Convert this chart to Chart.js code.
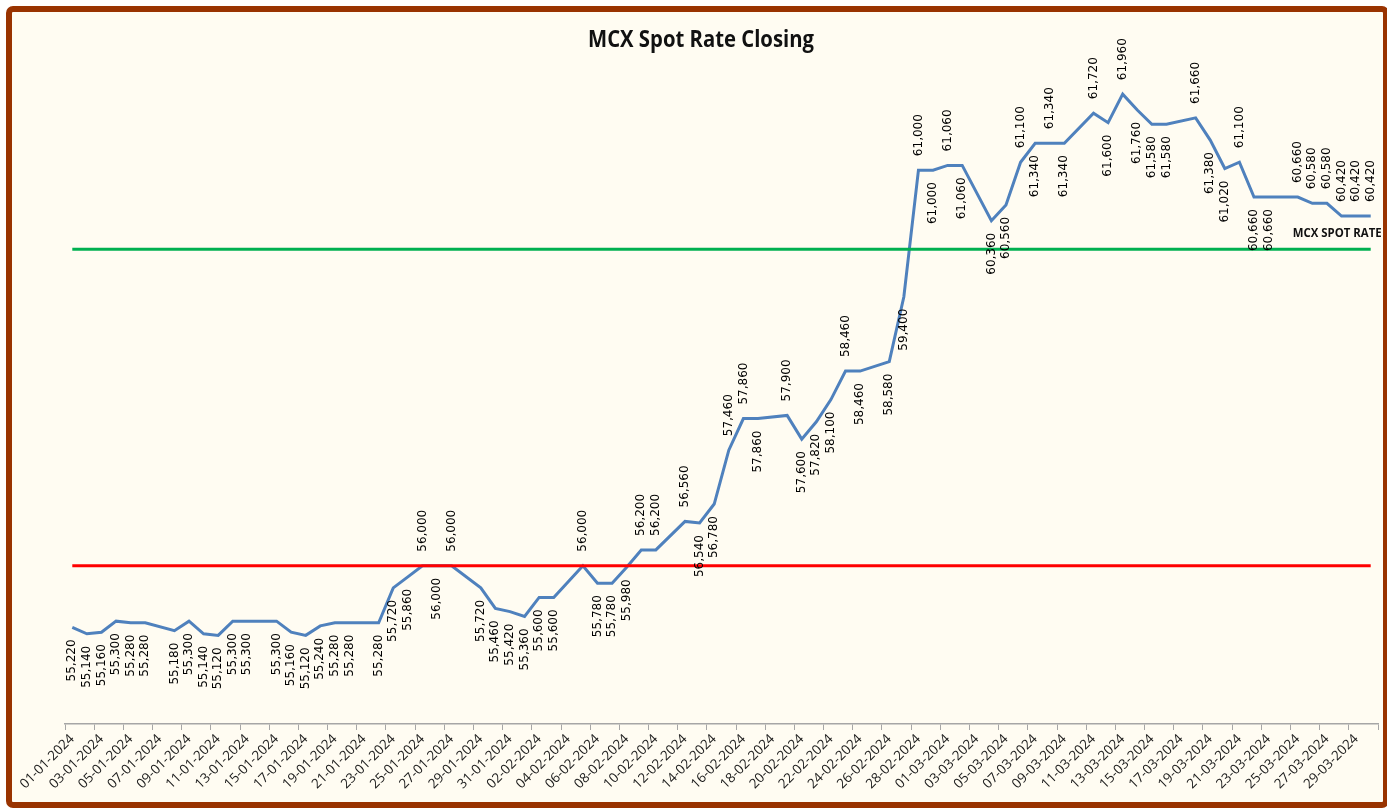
<!DOCTYPE html>
<html>
<head>
<meta charset="utf-8">
<script src="https://cdn.jsdelivr.net/npm/chart.js@4.4.1/dist/chart.umd.min.js"></script>
<style>
html,body{margin:0;padding:0;background:#ffffff;}
#wrap{position:relative;width:1387px;height:808px;overflow:hidden;background:#ffffff;}
#bg{position:absolute;left:6px;top:6px;width:1383px;height:802px;box-sizing:border-box;border:6px solid #993300;border-radius:7px;background:#fffcf2;}
canvas{position:absolute;left:0;top:0;}
</style>
</head>
<body>
<div id="wrap"><div id="bg"></div><canvas id="c" width="1387" height="808"></canvas></div>
<script>
// ---------- DATA ----------
const chartTitle = 'MCX Spot Rate Closing';
const seriesName = 'MCX SPOT RATE';

const dates = [
 '01-01-2024','02-01-2024','03-01-2024','04-01-2024','05-01-2024','06-01-2024','07-01-2024',
 '08-01-2024','09-01-2024','10-01-2024','11-01-2024','12-01-2024','13-01-2024','14-01-2024',
 '15-01-2024','16-01-2024','17-01-2024','18-01-2024','19-01-2024','20-01-2024','21-01-2024',
 '22-01-2024','23-01-2024','24-01-2024','25-01-2024','26-01-2024','27-01-2024','28-01-2024',
 '29-01-2024','30-01-2024','31-01-2024','01-02-2024','02-02-2024','03-02-2024','04-02-2024',
 '05-02-2024','06-02-2024','07-02-2024','08-02-2024','09-02-2024','10-02-2024','11-02-2024',
 '12-02-2024','13-02-2024','14-02-2024','15-02-2024','16-02-2024','17-02-2024','18-02-2024',
 '19-02-2024','20-02-2024','21-02-2024','22-02-2024','23-02-2024','24-02-2024','25-02-2024',
 '26-02-2024','27-02-2024','28-02-2024','29-02-2024','01-03-2024','02-03-2024','03-03-2024',
 '04-03-2024','05-03-2024','06-03-2024','07-03-2024','08-03-2024','09-03-2024','10-03-2024',
 '11-03-2024','12-03-2024','13-03-2024','14-03-2024','15-03-2024','16-03-2024','17-03-2024',
 '18-03-2024','19-03-2024','20-03-2024','21-03-2024','22-03-2024','23-03-2024','24-03-2024',
 '25-03-2024','26-03-2024','27-03-2024','28-03-2024','29-03-2024','30-03-2024'
];

const spotRate = [
 55220,55140,55160,55300,55280,55280,null,
 55180,55300,55140,55120,55300,55300,null,
 55300,55160,55120,55240,55280,55280,null,
 55280,55720,55860,56000,56000,56000,null,
 55720,55460,55420,55360,55600,55600,null,
 56000,55780,55780,55980,56200,56200,null,
 56560,56540,56780,57460,57860,57860,null,
 57900,57600,57820,58100,58460,58460,null,
 58580,59400,61000,61000,61060,61060,null,
 60360,60560,61100,61340,61340,61340,null,
 61720,61600,61960,61760,61580,61580,null,
 61660,61380,61020,61100,60660,60660,null,
 60660,60580,60580,60420,60420,60420
];

const upperLevel = 60000;   // green reference line
const lowerLevel = 56000;   // red reference line

const yMin = 54000;
const yMax = 62000;

// label side for each point: 'A' above, 'B' below
const labelSide = [
 'B','B','B','B','B','B','-',
 'B','B','B','B','B','B','-',
 'B','B','B','B','B','B','-',
 'B','B','B','A','B','A','-',
 'B','B','B','B','B','B','-',
 'A','B','B','B','A','A','-',
 'A','B','B','A','A','B','-',
 'A','B','B','B','A','B','-',
 'B','B','A','B','A','B','-',
 'B','B','A','B','A','B','-',
 'A','B','A','B','B','B','-',
 'A','B','B','A','B','B','-',
 'A','A','A','A','A','A'
];

// ---------- CHART ----------
function fmt(v){ return v.toLocaleString('en-US'); }

const overlayPlugin = {
  id: 'overlayText',
  afterDatasetsDraw(chart){
    const ctx = chart.ctx;
    const meta = chart.getDatasetMeta(0);
    ctx.save();
    ctx.font = '12px "DejaVu Sans"';
    ctx.fillStyle = '#000000';
    ctx.textBaseline = 'middle';
    meta.data.forEach((pt, i) => {
      const v = spotRate[i];
      if (v === null || v === undefined) return;
      const above = labelSide[i] === 'A';
      ctx.save();
      ctx.translate(pt.x, above ? pt.y - 14 : pt.y + 12);
      ctx.rotate(-Math.PI / 2);
      ctx.textAlign = above ? 'left' : 'right';
      ctx.fillText(fmt(v), 0, 0);
      ctx.restore();
    });
    // series name label near last point
    const last = meta.data[meta.data.length - 1];
    ctx.font = 'bold 12px "Open Sans"';
    ctx.fillStyle = '#111111';
    ctx.textAlign = 'left';
    ctx.textBaseline = 'alphabetic';
    const w = ctx.measureText(seriesName).width;
    ctx.save();
    ctx.translate(last.x - 78, last.y + 21);
    ctx.scale(89 / w, 1);
    ctx.fillText(seriesName, 0, 0);
    ctx.restore();

    // title
    ctx.font = 'bold 23px "Open Sans"';
    ctx.fillStyle = '#111111';
    ctx.textAlign = 'center';
    const tw = ctx.measureText(chartTitle).width;
    ctx.save();
    ctx.translate(701, 47);
    ctx.scale(226 / tw, 1);
    ctx.fillText(chartTitle, 0, 0);
    ctx.restore();
    ctx.restore();
  }
};

function build(){
  new Chart(document.getElementById('c'), {
    type: 'line',
    data: {
      labels: dates,
      datasets: [
        {
          label: seriesName,
          data: spotRate,
          borderColor: '#4F81BD',
          borderWidth: 3,
          pointRadius: 0,
          tension: 0,
          spanGaps: true,
          order: 2
        },
        {
          label: 'Upper',
          data: dates.map(() => upperLevel),
          borderColor: '#00B050',
          borderWidth: 3,
          pointRadius: 0,
          order: 0
        },
        {
          label: 'Lower',
          data: dates.map(() => lowerLevel),
          borderColor: '#FF0000',
          borderWidth: 3,
          pointRadius: 0,
          order: 1
        }
      ]
    },
    options: {
      responsive: false,
      animation: false,
      devicePixelRatio: 1,
      layout: { padding: { left: 65, right: 9, top: 91, bottom: 0 } },
      plugins: {
        legend: { display: false },
        title: { display: false },
        tooltip: { enabled: false }
      },
      scales: {
        x: {
          type: 'category',
          offset: true,
          grid: {
            offset: true,
            drawOnChartArea: false,
            tickLength: 6,
            tickWidth: 1,
            tickColor: (c) => (c.index === undefined || c.index % 2 === 0) ? '#a6a6a6' : 'rgba(0,0,0,0)'
          },
          border: { color: '#a6a6a6', width: 1.5 },
          ticks: {
            autoSkip: false,
            minRotation: 45,
            maxRotation: 45,
            padding: 1,
            color: '#1a1a1a',
            font: { family: 'Open Sans', size: 13.5 },
            callback: (v, i) => (i % 2 === 0 ? dates[i] : '')
          },
          afterFit: (s) => { s.height = 84; }
        },
        y: {
          display: false,
          min: yMin,
          max: yMax
        }
      }
    },
    plugins: [overlayPlugin]
  });
}

Promise.all([
  document.fonts.load('12px "DejaVu Sans"'),
  document.fonts.load('bold 23px "Open Sans"'),
  document.fonts.load('13.5px "Open Sans"')
]).then(build, build);
</script>
</body>
</html>
